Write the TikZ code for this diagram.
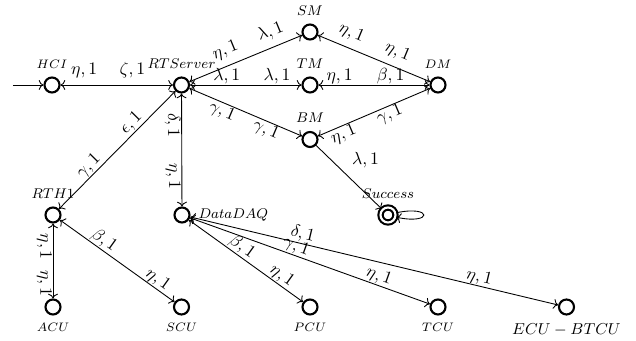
\documentclass[tikz,border=0pt]{standalone}
\usepackage{amsmath,amssymb}
\usepackage{tikz}
\usetikzlibrary{arrows.meta, positioning, calc}

\begin{document}
\begin{tikzpicture}[
  font=\footnotesize,
  state/.style={circle, draw, very thick, minimum size=3mm, inner sep=0pt},
  accept/.style={state, double, double distance=1.2pt},
  link/.style={<->, line width=0.5pt},
  elab/.style={sloped, above, inner sep=0.5pt, font=\normalsize},
  elabfar/.style={sloped, above, inner sep=4pt, font=\normalsize},
  elabbelow/.style={sloped, below, inner sep=0.5pt, font=\normalsize},
  label distance=1pt
]
  \useasboundingbox (0,0) rectangle (12.72,6.82);

  %--- states ---
  \node[state, label={[font=\scriptsize]above:$HCI$}] (hci) at (1.04,5.12) {};
  \node[state, label=above:$RTServer$] (rts) at (3.63,5.12) {};
  \node[state, label=above:$SM$] (sm) at (6.20,6.18) {};
  \node[state, label=above:$TM$] (tm) at (6.20,5.12) {};
  \node[state, label=above:$BM$] (bm) at (6.20,4.03) {};
  \node[state, label={[font=\scriptsize]above:$DM$}] (dm) at (8.76,5.12) {};
  \node[accept, label=above:$Success$] (succ) at (7.76,2.52) {};
  \node[state, label=above:$RTH1$] (rth) at (1.06,2.52) {};
  \node[state, label=right:$DataDAQ$] (daq) at (3.64,2.52) {};
  \node[state, label={[font=\scriptsize]below:$ACU$}] (acu) at (1.06,0.68) {};
  \node[state, label={[font=\scriptsize]below:$SCU$}] (scu) at (3.63,0.68) {};
  \node[state, label={[font=\scriptsize]below:$PCU$}] (pcu) at (6.20,0.68) {};
  \node[state, label={[font=\scriptsize]below:$TCU$}] (tcu) at (8.76,0.68) {};
  \node[state, label={[font=\small]below:$ECU-BTCU$}] (ecu) at (11.33,0.68) {};

  %--- start ---
  \coordinate (start) at (0.26,5.12);
  \draw[->, line width=0.5pt] (start) -- (hci);

  %--- top part ---
  \draw[link] (hci) -- node[elabfar, pos=0.21]{$\eta, 1$} node[elabfar, pos=0.64]{$\zeta, 1$} (rts);
  \draw[link] (rts) -- node[elabfar, pos=0.37]{$\eta, 1$} node[elabfar, pos=0.77]{$\lambda, 1$} (sm);
  \draw[link] (rts) -- node[elab, pos=0.33]{$\lambda, 1$} node[elab, pos=0.78]{$\lambda, 1$} (tm);
  \draw[link] (rts) -- node[elabbelow, pos=0.32]{$\gamma, 1$} node[elabbelow, pos=0.71]{$\gamma, 1$} (bm);
  \draw[link] (sm) -- node[elabfar, pos=0.25]{$\eta, 1$} node[elabfar, pos=0.66]{$\eta, 1$} (dm);
  \draw[link] (tm) -- node[elab, pos=0.19]{$\eta, 1$} node[elab, pos=0.65]{$\beta, 1$} (dm);
  \draw[link] (bm) -- node[elabbelow, pos=0.20]{$\eta, 1$} node[elabbelow, pos=0.61]{$\gamma, 1$} (dm);
  \draw[->, line width=0.5pt] (bm) -- node[pos=0.45, above right, font=\normalsize]{$\lambda, 1$} (succ);
  \draw[->, line width=0.5pt] (succ.15) .. controls +(12:7.5mm) and +(-12:7.5mm) .. (succ.-15);

  %--- down from the server ---
  \draw[link] (rts) -- node[elabbelow, pos=0.28]{$\delta, 1$} node[elabbelow, pos=0.73]{$\eta, 1$} (daq);
  \draw[link] (rts) -- node[elab, pos=0.325]{$\epsilon, 1$} node[elab, pos=0.69]{$\gamma, 1$} (rth);

  %--- units ---
  \draw[link] (rth) -- node[elabbelow, pos=0.31]{$\eta, 1$} node[elabbelow, pos=0.80]{$\eta, 1$} (acu);
  \draw[link] (rth) -- node[elab, pos=0.34]{$\beta, 1$} node[elab, pos=0.81]{$\eta, 1$} (scu);
  \draw[link] (daq) -- node[elab, pos=0.42]{$\beta, 1$} node[elab, pos=0.77]{$\eta, 1$} (pcu);
  \draw[link] (daq) -- node[elab, pos=0.43]{$\gamma, 1$} node[elab, pos=0.775]{$\eta, 1$} (tcu);
  \draw[link] (daq) -- node[elab, pos=0.30]{$\delta, 1$} node[elab, pos=0.78]{$\eta, 1$} (ecu);
\end{tikzpicture}
\end{document}
